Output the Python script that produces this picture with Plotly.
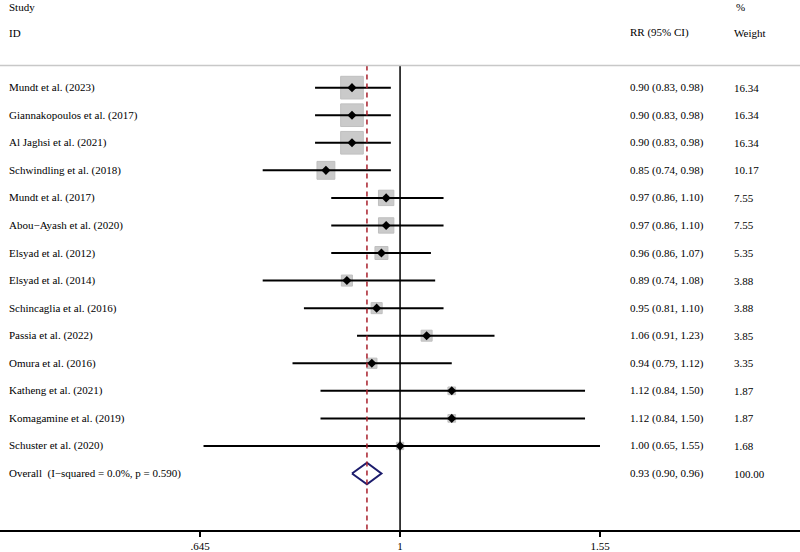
import math
import plotly.graph_objects as go

studies = ["Mundt et al. (2023)", "Giannakopoulos et al. (2017)", "Al Jaghsi et al. (2021)",
           "Schwindling et al. (2018)", "Mundt et al. (2017)", "Abou−Ayash et al. (2020)",
           "Elsyad et al. (2012)", "Elsyad et al. (2014)", "Schincaglia et al. (2016)",
           "Passia et al. (2022)", "Omura et al. (2016)", "Katheng et al. (2021)",
           "Komagamine et al. (2019)", "Schuster et al. (2020)"]
rr = [0.90, 0.90, 0.90, 0.85, 0.97, 0.97, 0.96, 0.89, 0.95, 1.06, 0.94, 1.12, 1.12, 1.00]
lo = [0.83, 0.83, 0.83, 0.74, 0.86, 0.86, 0.86, 0.74, 0.81, 0.91, 0.79, 0.84, 0.84, 0.65]
hi = [0.98, 0.98, 0.98, 0.98, 1.10, 1.10, 1.07, 1.08, 1.10, 1.23, 1.12, 1.50, 1.50, 1.55]
weights = [16.34, 16.34, 16.34, 10.17, 7.55, 7.55, 5.35, 3.88, 3.88, 3.85, 3.35, 1.87, 1.87, 1.68]
overall_label = "Overall  (I−squared = 0.0%, p = 0.590)"
overall_rr, overall_lo, overall_hi, overall_w = 0.93, 0.90, 0.96, 100.00
tick_vals = [0.645, 1, 1.55]
tick_text = [".645", "1", "1.55"]

FONT = "Liberation Serif, Times New Roman, serif"
n = len(studies)
rows = list(range(n))
ov_row = n
y_top_line = -0.80
y_bottom = 16.05

fig = go.Figure()

# weight boxes
fig.add_trace(go.Scatter(
    x=rr, y=rows, mode="markers",
    marker=dict(symbol="square", size=[5.6 * math.sqrt(w) for w in weights],
                color="#b5b5b5", line=dict(color="#a5a5a5", width=1)),
    hoverinfo="skip", showlegend=False))

# CI lines
cx, cy = [], []
for i in rows:
    cx += [lo[i], hi[i], None]
    cy += [i, i, None]
fig.add_trace(go.Scatter(x=cx, y=cy, mode="lines", line=dict(color="black", width=2),
                         hoverinfo="skip", showlegend=False))

# point estimates
fig.add_trace(go.Scatter(x=rr, y=rows, mode="markers",
                         marker=dict(symbol="diamond", size=7, color="black"),
                         hoverinfo="skip", showlegend=False))

# null line
fig.add_trace(go.Scatter(x=[1, 1], y=[y_top_line, y_bottom], mode="lines",
                         line=dict(color="black", width=1.5), hoverinfo="skip", showlegend=False))

# overall diamond
h = 0.39
fig.add_trace(go.Scatter(
    x=[overall_lo, overall_rr, overall_hi, overall_rr, overall_lo],
    y=[ov_row, ov_row - h, ov_row, ov_row + h, ov_row], mode="lines",
    line=dict(color="#1c1c6c", width=2), hoverinfo="skip", showlegend=False))

# pooled estimate dashed line
fig.add_trace(go.Scatter(x=[overall_rr, overall_rr], y=[y_top_line, y_bottom], mode="lines",
                         line=dict(color="#a8202c", width=1.5, dash="5px,4px"),
                         hoverinfo="skip", showlegend=False))

# top separator line
fig.add_shape(type="line", xref="paper", x0=0, x1=1, yref="y", y0=y_top_line, y1=y_top_line,
              line=dict(color="#c8c8c8", width=1.5))

ann = []
def txt(x, y, s):
    ann.append(dict(x=x / 800, xref="paper", y=y, yref="y", text=s, showarrow=False,
                    xanchor="left", yanchor="middle", font=dict(family=FONT, size=11, color="black")))

txt(7, -2.93, "Study")
txt(7, -1.99, "ID")
txt(628, -1.99, "RR (95% CI)")
txt(734, -2.93, "%")
txt(732, -1.99, "Weight")
for i in rows:
    txt(7, i, studies[i])
    txt(628, i, f"{rr[i]:.2f} ({lo[i]:.2f}, {hi[i]:.2f})")
    txt(732, i, f"{weights[i]:.2f}")
txt(7, ov_row, overall_label)
txt(628, ov_row, f"{overall_rr:.2f} ({overall_lo:.2f}, {overall_hi:.2f})")
txt(732, ov_row, f"{overall_w:.2f}")

span = math.log10(1.55) - math.log10(0.645)
fig.update_layout(
    width=800, height=552, margin=dict(l=0, r=0, t=0, b=22),
    paper_bgcolor="white", plot_bgcolor="white",
    annotations=ann,
    font=dict(family=FONT, size=11, color="black"),
    xaxis=dict(type="log", range=[math.log10(0.645) - span / 2, math.log10(1.55) + span / 2],
               tickvals=tick_vals, ticktext=tick_text, ticks="outside", ticklen=5,
               tickcolor="black", tickwidth=1.5, showline=True, linecolor="black", linewidth=1.5,
               showgrid=False, zeroline=False, tickfont=dict(family=FONT, size=11, color="black")),
    yaxis=dict(range=[y_bottom, -3.18], showgrid=False, zeroline=False, showticklabels=False,
               showline=False, ticks=""),
)

fig.write_html("out.html", config={"displayModeBar": False},
               post_script="document.body.style.margin='0';document.body.style.overflow='hidden';")
